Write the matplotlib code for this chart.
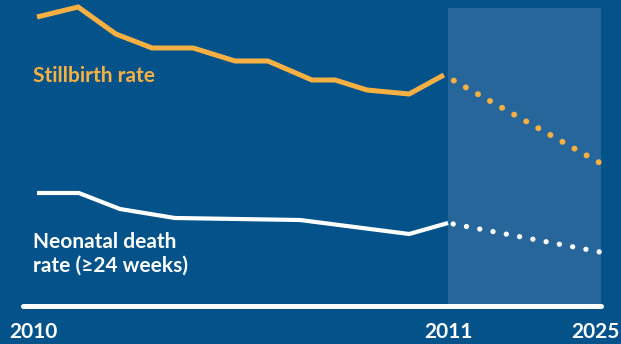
import matplotlib
matplotlib.use("Agg")
import matplotlib.pyplot as plt

# ---- data (x in years since the first observation, rates in arbitrary units) ----
still_x = [0.00, 1.10, 2.11, 3.08, 4.18, 5.30, 6.18, 7.36, 7.98, 8.83, 9.96, 10.89]
still_y = [5.78, 5.98, 5.44, 5.16, 5.16, 4.90, 4.90, 4.52, 4.52, 4.32, 4.24, 4.62]
still_proj_x = [10.89, 15.07]
still_proj_y = [4.62, 2.86]

neo_x = [0.00, 1.12, 2.22, 3.69, 7.04, 9.96, 11.00]
neo_y = [2.26, 2.26, 1.94, 1.76, 1.72, 1.44, 1.66]
neo_proj_x = [11.00, 15.07]
neo_proj_y = [1.66, 1.08]

proj_span = [11.0, 15.1]
tick_pos = [-0.1, 11.0, 14.95]
tick_labels = ["2010", "2011", "2025"]

BG = "#03528a"
SHADE = "#27669a"
ORANGE = "#f8b042"
WHITE = "#ffffff"

plt.rcParams['font.family'] = ['Lato', 'DejaVu Sans']

fig = plt.figure(figsize=(6.21, 3.44), dpi=100, facecolor=BG)
ax = fig.add_axes([0, 0, 1, 1])
ax.set_facecolor(BG)
ax.set_xlim(-0.99, 15.63)
ax.set_ylim(-0.76, 6.12)
ax.axis('off')

# projection shading
ax.axvspan(proj_span[0], proj_span[1], ymin=(0 + 0.76) / 6.88, ymax=(5.96 + 0.76) / 6.88,
           color=SHADE, lw=0, zorder=1)

# baseline
ax.plot([-0.37, 15.1], [0, 0], color=WHITE, lw=3.6, solid_capstyle='round', zorder=3)

# observed lines
ax.plot(still_x, still_y, color=ORANGE, lw=3.6, solid_capstyle='butt',
        solid_joinstyle='miter', zorder=4)
ax.plot(neo_x, neo_y, color=WHITE, lw=3.0, solid_capstyle='butt',
        solid_joinstyle='miter', zorder=4)

# projections (dotted)
ax.plot(still_proj_x, still_proj_y, color=ORANGE, lw=4.3,
        linestyle=(0.42, (0.01, 2.31)), dash_capstyle='round', zorder=4)
ax.plot(neo_proj_x, neo_proj_y, color=WHITE, lw=3.8,
        linestyle=(1.56, (0.01, 2.55)), dash_capstyle='round', zorder=4)

# labels
ax.text(-0.12, 4.48, "Stillbirth rate", color=ORANGE, fontsize=15, fontweight='bold',
        ha='left', va='baseline', zorder=5)
ax.text(-0.12, 1.16, "Neonatal death", color=WHITE, fontsize=15, fontweight='bold',
        ha='left', va='baseline', zorder=5)
ax.text(-0.12, 0.68, "rate (\u226524 weeks)", color=WHITE, fontsize=15, fontweight='bold',
        ha='left', va='baseline', zorder=5)

for p, lab in zip(tick_pos, tick_labels):
    ax.text(p, -0.64, lab, color=WHITE, fontsize=15, fontweight='bold',
            ha='center', va='baseline', zorder=5)

fig.savefig("out.png", dpi=100, facecolor=BG)
